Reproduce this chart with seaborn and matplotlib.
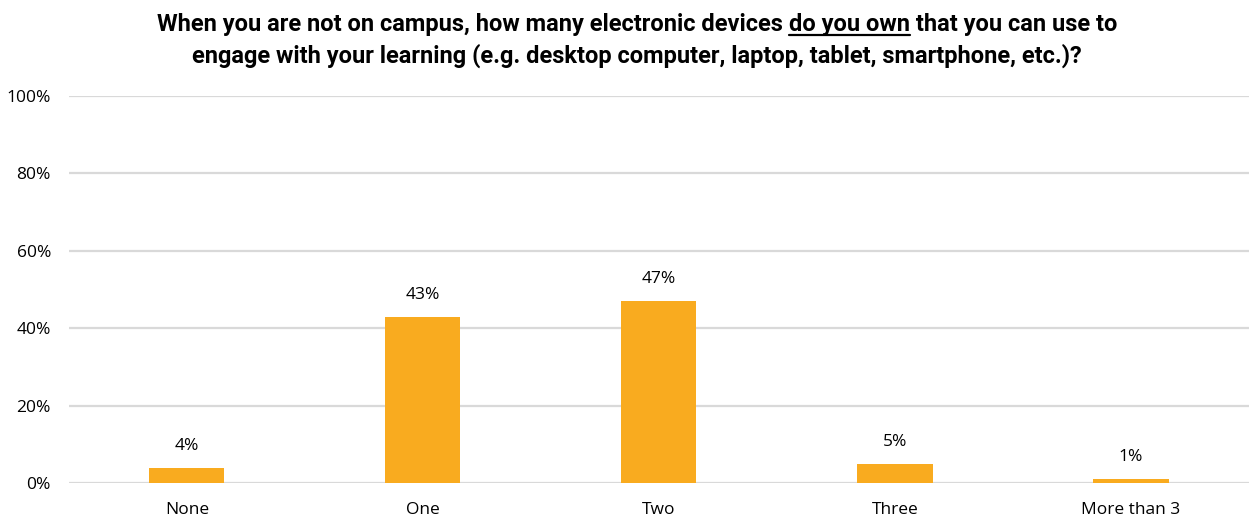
import matplotlib
matplotlib.use("Agg")
import matplotlib.pyplot as plt
import seaborn as sns
from pandas import DataFrame

categories = ["None", "One", "Two", "Three", "More than 3"]
percents = [4, 43, 47, 5, 1]
y_ticks = [0, 20, 40, 60, 80, 100]

BAR_COLOR = "#F9AB1F"
GRID_COLOR = "#D9D9D9"

sns.set_style("white")
plt.rcParams['font.family'] = ['Open Sans', 'DejaVu Sans']

df = DataFrame({"answer": categories, "pct": percents})

fig = plt.figure(figsize=(12.49, 5.18), dpi=100)
ax = fig.add_axes([0.0552, 0.0676, 0.9448, 0.7471])

sns.barplot(data=df, x="answer", y="pct", color=BAR_COLOR, width=0.318,
            saturation=1, ax=ax, zorder=3, edgecolor="none", linewidth=0)

ax.set_ylim(0, 100)
ax.set_xlim(-0.5, len(categories) - 0.5)
ax.set_yticks(y_ticks)
ax.set_yticklabels([f"{t}%" for t in y_ticks])
ax.yaxis.grid(True, color=GRID_COLOR, linewidth=1.6, zorder=0)
ax.set_axisbelow(True)
for s in ax.spines.values():
    s.set_visible(False)
ax.tick_params(axis="both", length=0, labelsize=12.5, colors="black")
ax.tick_params(axis="y", pad=13)
ax.tick_params(axis="x", pad=14)
ax.set_xlabel("")
ax.set_ylabel("")

for i, v in enumerate(percents):
    ax.annotate(f"{v}%", (i, v), xytext=(0, 10), textcoords="offset points",
                ha="center", va="bottom", fontsize=12.5, color="black")

# title, first line has an underlined piece
title_font = dict(family=['Roboto', 'Open Sans', 'DejaVu Sans'],
                  weight="bold", fontsize=17, color="black")
parts = ["When you are not on campus, how many electronic devices ",
         "do you own",
         " that you can use to"]
renderer = fig.canvas.get_renderer()
texts = [fig.text(0, 0.953, p, va="center", ha="left", **title_font) for p in parts]
widths = [t.get_window_extent(renderer).width / fig.bbox.width for t in texts]
x = 0.5 - sum(widths) / 2 + 0.01
for t, w in zip(texts, widths):
    t.set_x(x)
    x += w
ul = texts[1].get_window_extent(renderer)
x0 = texts[1].get_position()[0]
fig.add_artist(plt.Line2D([x0, x0 + widths[1]], [ul.y0 / fig.bbox.height + 0.002] * 2,
                          transform=fig.transFigure, color="black", linewidth=1.6))
fig.text(0.5 + 0.01, 0.892,
         "engage with your learning (e.g. desktop computer, laptop, tablet, smartphone, etc.)?",
         ha="center", va="center", **title_font)

fig.savefig("out.png", dpi=100)
